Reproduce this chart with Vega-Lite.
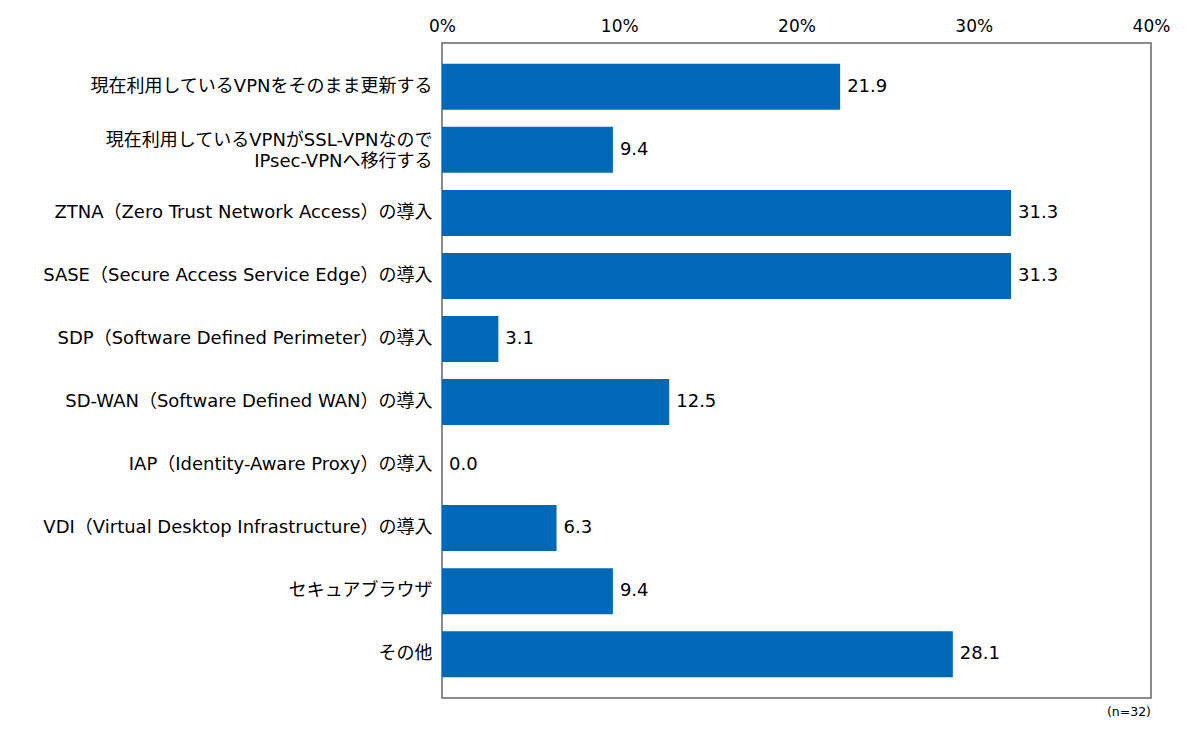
{
  "$schema": "https://vega.github.io/schema/vega-lite/v6.json",
  "width": 709,
  "height": 655,
  "autosize": {"type": "none"},
  "padding": {"left": 442, "top": 43, "right": 49, "bottom": 47},
  "background": "white",
  "config": {
    "font": "DejaVu Sans, Noto Sans CJK JP",
    "view": {"stroke": "#666666", "strokeWidth": 1.5}
  },
  "title": {
    "text": "(n=32)",
    "orient": "bottom",
    "anchor": "end",
    "frame": "group",
    "fontSize": 12.5,
    "fontWeight": "normal",
    "color": "#000000",
    "offset": 8
  },
  "data": {
    "values": [
      {"item": "現在利用しているVPNをそのまま更新する", "value": 21.9},
      {"item": "現在利用しているVPNがSSL-VPNなので\nIPsec-VPNへ移行する", "value": 9.4},
      {"item": "ZTNA（Zero Trust Network Access）の導入", "value": 31.3},
      {"item": "SASE（Secure Access Service Edge）の導入", "value": 31.3},
      {"item": "SDP（Software Defined Perimeter）の導入", "value": 3.1},
      {"item": "SD-WAN（Software Defined WAN）の導入", "value": 12.5},
      {"item": "IAP（Identity-Aware Proxy）の導入", "value": 0.0},
      {"item": "VDI（Virtual Desktop Infrastructure）の導入", "value": 6.3},
      {"item": "セキュアブラウザ", "value": 9.4},
      {"item": "その他", "value": 28.1}
    ]
  },
  "encoding": {
    "y": {
      "field": "item",
      "type": "nominal",
      "sort": null,
      "scale": {"paddingInner": 0.27, "paddingOuter": 0.33},
      "axis": {
        "title": null,
        "ticks": false,
        "domain": false,
        "labelFontSize": 18,
        "labelColor": "#000000",
        "labelPadding": 10,
        "labelLimit": 500,
        "labelLineHeight": 21,
        "labelOffset": {
          "condition": {"test": "indexof(datum.value, 'IPsec') >= 0", "value": -9},
          "value": 0
        },
        "labelExpr": "split(datum.label, '\\n')"
      }
    }
  },
  "layer": [
    {
      "mark": {"type": "bar", "color": "#0068b7"},
      "encoding": {
        "x": {
          "field": "value",
          "type": "quantitative",
          "scale": {"domain": [0, 39], "nice": false},
          "axis": null
        }
      }
    },
    {
      "mark": {
        "type": "text",
        "align": "left",
        "baseline": "middle",
        "dx": 7,
        "fontSize": 18,
        "color": "#000000"
      },
      "encoding": {
        "x": {
          "field": "value",
          "type": "quantitative",
          "scale": {"domain": [0, 39], "nice": false},
          "axis": null
        },
        "text": {"field": "value", "type": "quantitative", "format": ".1f"}
      }
    },
    {
      "mark": {"type": "rule", "opacity": 0},
      "encoding": {
        "x": {
          "field": "value",
          "type": "quantitative",
          "scale": {"domain": [0, 40], "nice": false},
          "axis": {
            "orient": "top",
            "title": null,
            "values": [0, 10, 20, 30, 40],
            "labelExpr": "datum.value + '%'",
            "ticks": false,
            "domain": false,
            "labelFontSize": 17,
            "labelColor": "#000000",
            "labelPadding": 8,
            "labelFlush": false,
            "gridColor": "#aaaaaa",
            "gridDash": [3, 3],
            "gridWidth": 1
          }
        }
      }
    }
  ],
  "resolve": {"scale": {"x": "independent"}}
}
